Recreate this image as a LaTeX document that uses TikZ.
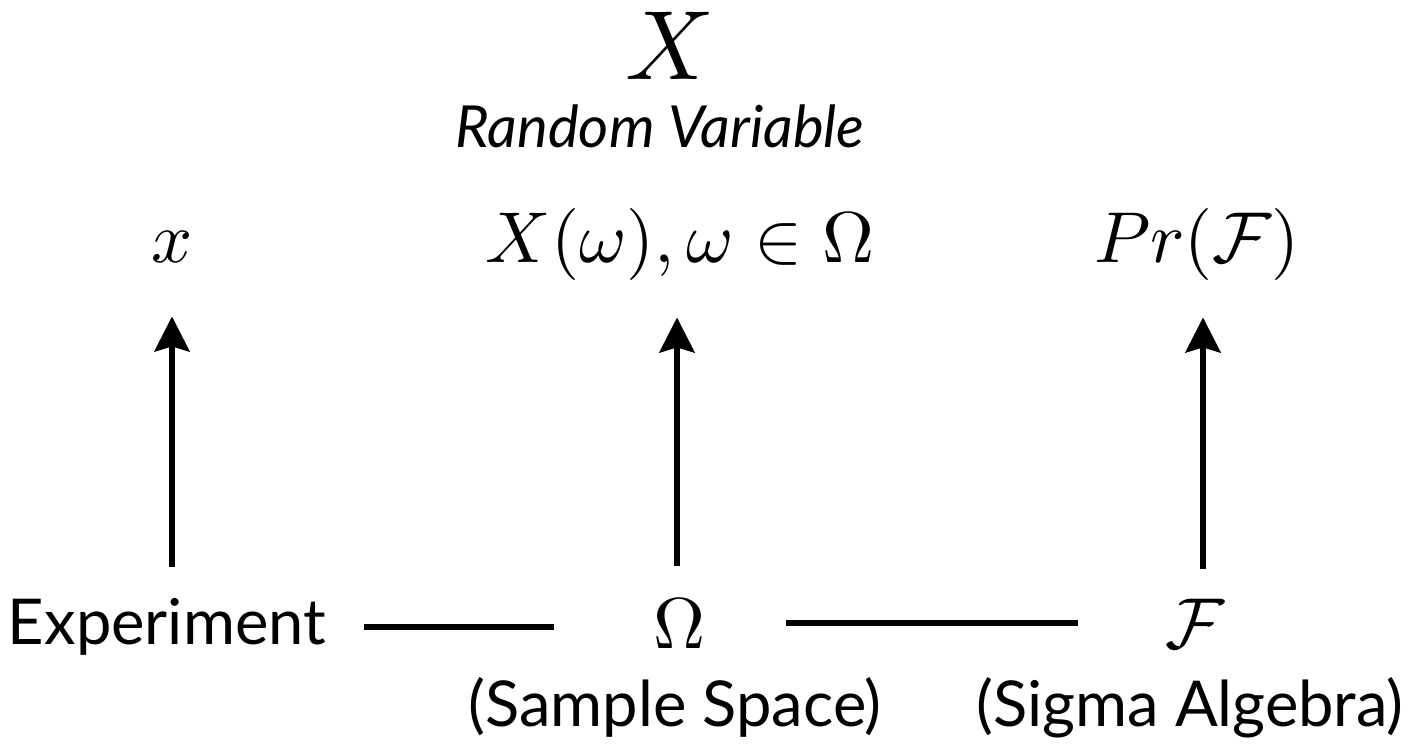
\documentclass[tikz,border=0pt]{standalone}
\usepackage{fontspec}
\setsansfont{Lato}
\usetikzlibrary{arrows.meta, positioning, calc}

\begin{document}
\begin{tikzpicture}[
  label/.style = {inner sep=0pt, anchor=base, font=\sffamily\fontsize{36}{44}\selectfont},
  mathlbl/.style = {inner sep=0pt, anchor=base, scale=4.1, transform shape},
  bigmath/.style = {inner sep=0pt, anchor=base, scale=5.6, transform shape},
  title/.style = {inner sep=0pt, anchor=base, font=\sffamily\itshape\fontsize{33}{40}\selectfont},
  line/.style = {line width=1.2mm, -{Stealth[length=7mm, width=7mm, inset=1mm]}},
  link/.style = {line width=1.2mm}
]
\useasboundingbox (0,0) rectangle (28.4,14.98);

% Nodes
\node[bigmath] (rv) at (13.4,13.38) {$X$};
\node[title] (rvname) at (13.2,12.02) {Random Variable};
\node[mathlbl] (xval) at (3.44,9.72) {$x$};
\node[mathlbl] (xomega) at (13.6,9.72) {$X(\omega), \omega \in \Omega$};
\node[mathlbl] (prob) at (23.94,9.72) {$Pr(\mathcal{F})$};

\node[label] (expt) at (3.34,2.08) {Experiment};
\node[mathlbl] (omega) at (13.6,2.02) {$\Omega$};
\node[mathlbl] (sigma) at (23.9,2.02) {$\mathcal{F}$};
\node[label] (sspace) at (13.5,0.44) {(Sample Space)};
\node[label] (salg) at (23.8,0.44) {(Sigma Algebra)};

% Connections
\draw[line, shorten <=6.2mm, shorten >=10.4mm] (expt.north -| xval) -- (xval.south);
\draw[line, shorten <=6.2mm, shorten >=7mm] (omega.north -| 13.54,0) -- (13.54,0 |- xomega.south);
\draw[line, shorten <=5.6mm, shorten >=7mm] (sigma.north -| 24.06,0) -- (24.06,0 |- prob.south);

\draw[link, shorten <=7.6mm, shorten >=19.8mm] (expt.east) -- (expt.east -| omega.west);
\draw[link, shorten <=15.8mm, shorten >=17.2mm] (omega.east) -- (omega.east -| sigma.west);

\end{tikzpicture}
\end{document}
